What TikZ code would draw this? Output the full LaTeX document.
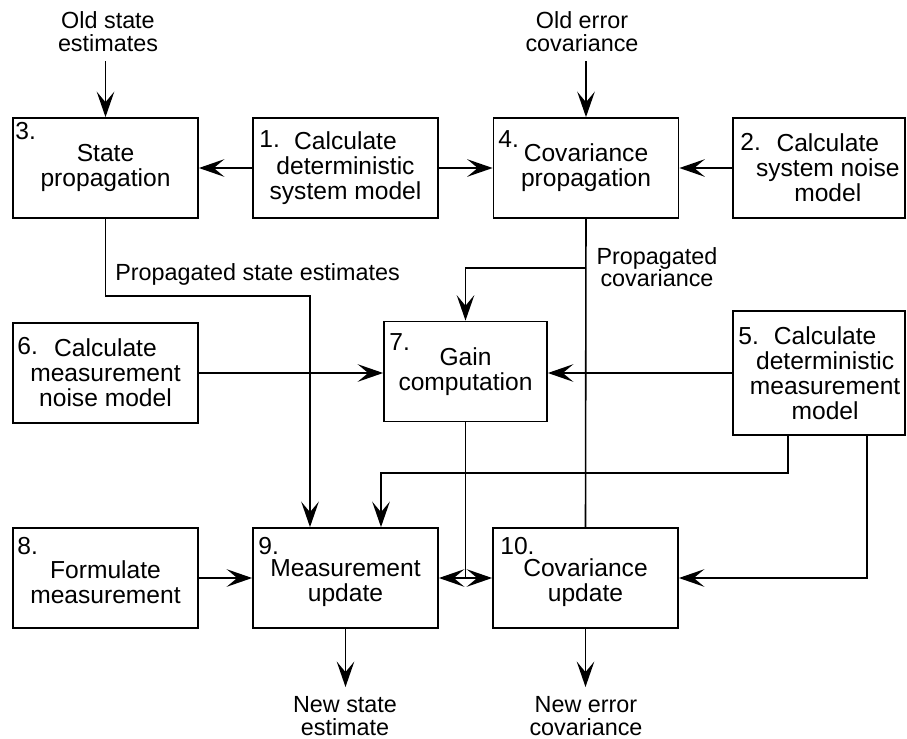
\documentclass[tikz,border=0pt]{standalone}
\usepackage{fontspec}
\setmainfont{Liberation Sans}
\usetikzlibrary{arrows.meta,positioning}
\newcommand\boxtxt{\fontsize{14}{14.2}\selectfont}
\newcommand\lbltxt{\fontsize{13.3}{13}\selectfont}
\newcommand\topgap{\rule{0pt}{15pt}}
\tikzset{
  blk/.style={draw,line width=1pt,minimum width=3.7cm,minimum height=2cm,
              align=center,inner sep=0pt,font=\boxtxt},
  num/.style={anchor=north west,inner sep=0pt,font=\boxtxt},
  lbl/.style={align=center,inner sep=5pt,font=\lbltxt},
  wire/.style={line width=0.9pt},
  arr/.style={-{Stealth[length=14.5pt,width=10pt,inset=6pt]},line width=0.9pt},
}
\begin{document}
\begin{tikzpicture}[x=0.02cm,y=-0.02cm]
  \useasboundingbox (0,0) rectangle (907,738);
  % Blocks
  \node[blk] (b3) at (105.5,168) {State\\propagation};
  \node[blk] (b1) at (345.5,168) {Calculate\\deterministic\\system model};
  \node[blk] (b4) at (586,168) {Covariance\\propagation};
  \node[blk,minimum width=3.44cm] (b2) at (819,168)
    {\hspace*{10pt}Calculate\\\hspace*{10pt}system noise\\\hspace*{10pt}model};
  \node[blk] (b6) at (105.5,373) {Calculate\\measurement\\noise model};
  \node[blk,minimum width=3.26cm] (b7) at (465.5,371.5) {Gain\\computation};
  \node[blk,minimum width=3.44cm,minimum height=2.48cm] (b5) at (819,373)
    {\hspace*{7pt}Calculate\\\hspace*{7pt}deterministic\\
     \hspace*{7pt}measurement\\\hspace*{7pt}model};
  \node[blk] (b8) at (105.5,578) {\topgap Formulate\\measurement};
  \node[blk] (b9) at (345.5,578) {\topgap Measurement\\update};
  \node[blk] (b10) at (585.5,578) {\topgap Covariance\\update};
  % Block numbers
  \node[num] (n3) at (15,122) {3.};
  \node[num] (n1) at (259,130) {1.};
  \node[num] (n4) at (498,130) {4.};
  \node[num] (n2) at (740,133) {2.};
  \node[num] (n6) at (17,337) {6.};
  \node[num] (n7) at (389,333) {7.};
  \node[num] (n5) at (738,327) {5.};
  \node[num] (n8) at (17,537) {8.};
  \node[num] (n9) at (258,537) {9.};
  \node[num] (n10) at (500,537) {10.};
  % Labels
  \node[lbl,anchor=south] (old1) at (108,61) {Old state\\estimates};
  \node[lbl,anchor=south] (old2) at (582,61) {Old error\\covariance};
  \node[lbl,anchor=north] (new1) at (345,687) {New state\\estimate};
  \node[lbl,anchor=north] (new2) at (586,687) {New error\\covariance};
  \node[lbl,anchor=base west,inner sep=0pt] (pslbl) at (115,280)
    {Propagated state estimates};
  \node[lbl,anchor=north] (pclbl) at (657,238) {Propagated\\covariance};
  % Inputs and outputs
  \draw[arr] (b3.north |- old1.south) -- (b3.north);
  \draw[arr] (b4.north |- old2.south) -- (b4.north);
  \draw[arr] (b9.south) -- (b9.south |- new1.north);
  \draw[arr] (b10.south) -- (b10.south |- new2.north);
  % Top row
  \draw[arr] (b1.west) -- (b3.east);
  \draw[arr] (b1.east) -- (b4.west);
  \draw[arr] (b2.west) -- (b4.east);
  % Propagated state and covariance
  \coordinate (ps) at (310,296);
  \coordinate (pc) at (586,268);
  \draw[arr] (b3.south) |- (ps) -- (ps |- b9.north);
  \draw[wire] (b4.south) -- (b10.north);
  \draw[arr] (pc) -| (b7.north);
  % Gain inputs
  \draw[arr] (b6.east) -- (b6.east -| b7.west);
  \draw[arr] (b5.west) -- (b5.west -| b7.east);
  % Measurement model to updates
  \coordinate (m1) at (788,473);
  \coordinate (m9) at (381,473);
  \coordinate (m2) at (867,578);
  \draw[arr] (b5.south -| m1) -- (m1) -- (m9) -- (m9 |- b9.north);
  \draw[arr] (b5.south -| m2) -- (m2) -- (b10.east);
  % Gain to updates
  \coordinate (g) at (b7.south |- b9.east);
  \draw[wire] (b7.south) -- (g);
  \draw[arr] (g) -- (b9.east);
  \draw[arr] (g) -- (b10.west);
  \draw[arr] (b8.east) -- (b9.west);
\end{tikzpicture}
\end{document}
